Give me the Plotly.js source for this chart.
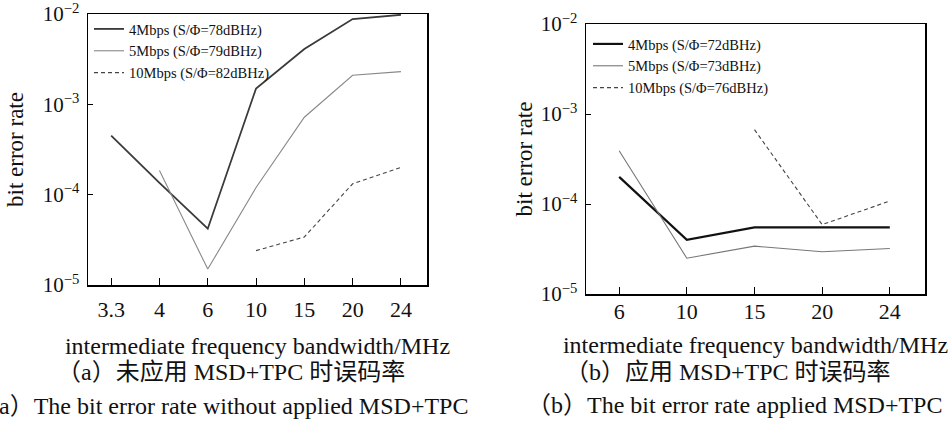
<!DOCTYPE html>
<html>
<head>
<meta charset="utf-8">
<script src="https://cdn.plot.ly/plotly-3.0.1.min.js"></script>
<style>html,body{margin:0;padding:0;background:#fff;}#chart{width:951px;height:428px;}</style>
</head>
<body>
<div id="chart"></div>
<script>
// ---- data ----
const catsA = ['3.3', '4', '6', '10', '15', '20', '24'];
const a4 = [4.5e-4, 1.35e-4, 4.2e-5, 1.5e-3, 4.1e-3, 8.8e-3, 9.8e-3];
const a5 = [null, 1.85e-4, 1.5e-5, 1.2e-4, 7.2e-4, 2.1e-3, 2.3e-3];
const a10 = [null, null, null, 2.4e-5, 3.4e-5, 1.32e-4, 2.0e-4];

const catsB = ['6', '10', '15', '20', '24'];
const b4 = [2.0e-4, 4.0e-5, 5.5e-5, 5.5e-5, 5.5e-5];
const b5 = [3.9e-4, 2.5e-5, 3.4e-5, 2.95e-5, 3.2e-5];
const b10 = [null, null, 6.7e-4, 5.9e-5, 1.08e-4];

const namesA = ['4Mbps (S/Φ=78dBHz)', '5Mbps (S/Φ=79dBHz)', '10Mbps (S/Φ=82dBHz)'];
const namesB = ['4Mbps (S/Φ=72dBHz)', '5Mbps (S/Φ=73dBHz)', '10Mbps (S/Φ=76dBHz)'];
const yTickVals = [1e-5, 1e-4, 1e-3, 1e-2];
const yTickText = ['10<sup>−5</sup>', '10<sup>−4</sup>', '10<sup>−3</sup>', '10<sup>−2</sup>'];
const xTitle = 'intermediate frequency bandwidth/MHz';
const yTitle = 'bit error rate';
const capA_cn = '（a）未应用 MSD+TPC 时误码率';
const capA_en = '（a）The bit error rate without applied MSD+TPC';
const capB_cn = '（b）应用 MSD+TPC 时误码率';
const capB_en = '（b）The bit error rate applied MSD+TPC';

// ---- layout helpers ----
const W = 951, H = 428;
const FONT = 'Liberation Serif, DejaVu Serif, Noto Sans CJK SC, serif';
const px = v => v / W;
const py = v => 1 - v / H;

const traces = [
  {x: catsA, y: a4, name: namesA[0], mode: 'lines', line: {color: '#3a3a3a', width: 1.8}, xaxis: 'x', yaxis: 'y', legend: 'legend'},
  {x: catsA, y: a5, name: namesA[1], mode: 'lines', line: {color: '#888888', width: 1.1}, xaxis: 'x', yaxis: 'y', legend: 'legend'},
  {x: catsA, y: a10, name: namesA[2], mode: 'lines', line: {color: '#444444', width: 1.1, dash: '4px,3px'}, xaxis: 'x', yaxis: 'y', legend: 'legend'},
  {x: catsB, y: b4, name: namesB[0], mode: 'lines', line: {color: '#111111', width: 2.2}, xaxis: 'x2', yaxis: 'y2', legend: 'legend2'},
  {x: catsB, y: b5, name: namesB[1], mode: 'lines', line: {color: '#777777', width: 1.1}, xaxis: 'x2', yaxis: 'y2', legend: 'legend2'},
  {x: catsB, y: b10, name: namesB[2], mode: 'lines', line: {color: '#444444', width: 1.1, dash: '4px,3px'}, xaxis: 'x2', yaxis: 'y2', legend: 'legend2'}
];

function xAxis(domain, range, anchor, standoff, lblStand) {
  return {
    type: 'category', domain: domain, range: range, anchor: anchor,
    showline: true, linecolor: '#000', linewidth: 1.5, mirror: true,
    ticks: 'inside', ticklen: 7, tickwidth: 1, tickcolor: '#000',
    showgrid: false, zeroline: false,
    tickfont: {family: FONT, size: 22, color: '#111'},
    ticklabelstandoff: lblStand, ticklabeloverflow: 'allow',
    title: {text: xTitle, font: {family: FONT, size: 24, color: '#111'}, standoff: standoff},
    automargin: false, fixedrange: true
  };
}
function yAxis(domain, anchor, standoff, lblStand) {
  return {
    type: 'log', domain: domain, range: [-5, -2], anchor: anchor,
    tickvals: yTickVals, ticktext: yTickText,
    showline: true, linecolor: '#000', linewidth: 1.5, mirror: true,
    ticks: 'inside', ticklen: 5, tickwidth: 1, tickcolor: '#000',
    showgrid: false, zeroline: false,
    tickfont: {family: FONT, size: 21, color: '#111'},
    ticklabelstandoff: lblStand, ticklabeloverflow: 'allow',
    title: {text: yTitle, font: {family: FONT, size: 23, color: '#111'}, standoff: standoff},
    automargin: false, fixedrange: true
  };
}

const legendFont = {family: FONT, size: 14.5, color: '#111'};
const layout = {
  width: W, height: H,
  margin: {l: 0, r: 0, t: 0, b: 0},
  paper_bgcolor: '#fff', plot_bgcolor: '#fff',
  showlegend: true,
  xaxis: xAxis([px(88), px(427)], [-0.48, 6.54], 'y', 16, 4),
  yaxis: yAxis([py(285), py(14)], 'x', 12, 3),
  xaxis2: xAxis([px(586), px(925)], [-0.49, 4.52], 'y2', 13, -3),
  yaxis2: yAxis([py(294), py(24)], 'x2', 1, 3),
  legend: {x: px(89), y: py(13), xanchor: 'left', yanchor: 'top', bgcolor: 'rgba(0,0,0,0)', font: legendFont, borderwidth: 0},
  legend2: {x: px(588), y: py(28), xanchor: 'left', yanchor: 'top', bgcolor: 'rgba(0,0,0,0)', font: legendFont, borderwidth: 0},
  annotations: [
    {text: capA_cn, x: px(231), y: py(372), xref: 'paper', yref: 'paper', showarrow: false, xanchor: 'center', yanchor: 'middle', font: {family: FONT, size: 24, color: '#111'}},
    {text: capA_en, x: px(221), y: py(406), xref: 'paper', yref: 'paper', showarrow: false, xanchor: 'center', yanchor: 'middle', font: {family: FONT, size: 24, color: '#111'}},
    {text: capB_cn, x: px(728), y: py(372), xref: 'paper', yref: 'paper', showarrow: false, xanchor: 'center', yanchor: 'middle', font: {family: FONT, size: 24, color: '#111'}},
    {text: capB_en, x: px(734), y: py(405), xref: 'paper', yref: 'paper', showarrow: false, xanchor: 'center', yanchor: 'middle', font: {family: FONT, size: 24, color: '#111'}}
  ]
};

Plotly.newPlot('chart', traces, layout, {staticPlot: true, displayModeBar: false});
</script>
</body>
</html>
